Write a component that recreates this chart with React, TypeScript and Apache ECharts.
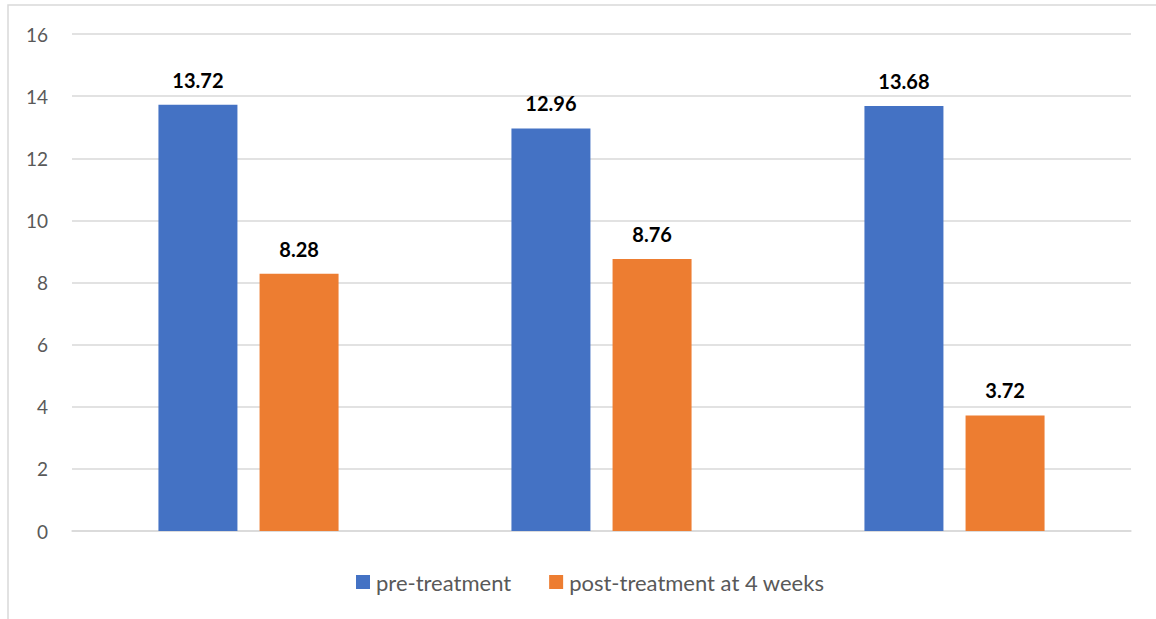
import React, { useEffect, useRef } from "react";
import * as echarts from "echarts";

const categories = ["A", "B", "C"];
const preTreatment = [13.72, 12.96, 13.68];
const postTreatment = [8.28, 8.76, 3.72];
const seriesNames = ["pre-treatment", "post-treatment at 4 weeks"];

export default function App() {
  const ref = useRef<HTMLDivElement>(null);
  useEffect(() => {
    const chart = echarts.init(ref.current!, null, { renderer: "svg" });
    const font = "Lato, 'Open Sans', sans-serif";
    const label = {
      show: true,
      position: "top",
      distance: 15,
      color: "#000",
      fontWeight: "bold",
      fontSize: 20,
      fontFamily: font,
    };
    chart.setOption({
      animation: false,
      textStyle: { fontFamily: font },
      graphic: [
        {
          type: "rect",
          shape: { x: 8, y: 5, width: 1160, height: 630 },
          style: { fill: "none", stroke: "#d9d9d9", lineWidth: 1.5 },
          silent: true,
        },
      ],
      grid: { left: 72, right: 25, top: 34, bottom: 88 },
      legend: {
        top: 566,
        left: 351,
        itemWidth: 14,
        itemHeight: 14,
        itemGap: 38,
        icon: "rect",
        textStyle: { color: "#595959", fontSize: 22, fontFamily: font, padding: [0, 0, 0, 1] },
        data: seriesNames,
      },
      xAxis: {
        type: "category",
        data: categories,
        axisLine: { show: true, lineStyle: { color: "#d9d9d9", width: 1.5 } },
        axisTick: { show: false },
        axisLabel: { show: false },
      },
      yAxis: {
        type: "value",
        min: 0,
        max: 16,
        interval: 2,
        axisLine: { show: false },
        axisTick: { show: false },
        axisLabel: { color: "#595959", fontSize: 19, margin: 24, fontFamily: font },
        splitLine: { lineStyle: { color: "#d9d9d9", width: 1.5 } },
      },
      series: [
        {
          name: seriesNames[0],
          type: "bar",
          data: preTreatment,
          barWidth: 79,
          barGap: "28%",
          itemStyle: { color: "#4472C4" },
          label,
        },
        {
          name: seriesNames[1],
          type: "bar",
          data: postTreatment,
          barWidth: 79,
          barGap: "28%",
          itemStyle: { color: "#ED7D31" },
          label,
        },
      ],
    });
    return () => chart.dispose();
  }, []);
  return (
    <div
      ref={ref}
      style={{ position: "fixed", left: 0, top: 0, width: 1156, height: 619, background: "#fff" }}
    />
  );
}
